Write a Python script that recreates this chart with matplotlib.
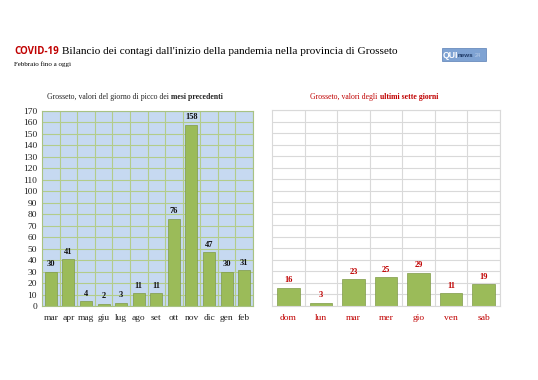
import matplotlib.pyplot as plt
import matplotlib.patches as mpatches
import numpy as np

mesi = ['mar', 'apr', 'mag', 'giu', 'lug', 'ago', 'set', 'ott', 'nov', 'dic', 'gen', 'feb']
picchi = [30, 41, 4, 2, 3, 11, 11, 76, 158, 47, 30, 31]
giorni = ['dom', 'lun', 'mar', 'mer', 'gio', 'ven', 'sab']
ultimi = [16, 3, 23, 25, 29, 11, 19]

W, H = 538, 380
SERIF = 'Liberation Serif'
RED = '#C00000'
BAR = '#9BBB59'
BAR_EDGE = '#7F9A48'


def px_axes(fig, x0, y0, x1, y1):
    # pixel box (top-left origin) -> figure fraction
    return fig.add_axes([x0 / W, 1 - y1 / H, (x1 - x0) / W, (y1 - y0) / H])


def style_axes(ax, n, bg, grid, spine):
    ax.set_facecolor(bg)
    ax.set_xlim(-0.5, n - 0.5)
    ax.set_ylim(0, 170)
    ax.set_yticks(np.arange(0, 171, 10))
    ax.set_xticks(np.arange(n) + 0.5, minor=True)
    ax.grid(True, axis='y', which='major', color=grid, lw=0.8)
    ax.grid(True, axis='x', which='minor', color=grid, lw=0.8)
    ax.set_axisbelow(True)
    for s in ax.spines.values():
        s.set_color(spine)
        s.set_linewidth(0.8)
    ax.tick_params(which='both', length=0)


def two_part(fig, cx, y, plain, bold, color, size):
    # plain + bold text, centred as a whole at pixel cx
    a = fig.text(0, 1 - y / H, plain, fontsize=size, fontfamily=SERIF, color=color, va='center')
    b = fig.text(0, 1 - y / H, bold, fontsize=size, fontfamily=SERIF, fontweight='bold',
                 color=color, va='center')
    fig.canvas.draw()
    wa = a.get_window_extent().width
    wb = b.get_window_extent().width
    x0 = cx - (wa + wb) / 2
    a.set_x(x0 / W)
    b.set_x((x0 + wa) / W)


fig = plt.figure(figsize=(W / 100, H / 100), dpi=100)

# left chart
ax1 = px_axes(fig, 42, 111, 253, 306)
style_axes(ax1, len(mesi), '#C6D9F1', '#B3CC8A', '#A8C283')
x = np.arange(len(mesi))
ax1.bar(x, picchi, width=0.68, color=BAR, edgecolor=BAR_EDGE, lw=0.5)
ax1.set_xticks(x)
ax1.set_xticklabels(mesi, fontfamily=SERIF, fontsize=6.8, color='#222222')
ax1.tick_params(axis='x', pad=6)
ax1.set_yticklabels([str(v) for v in range(0, 171, 10)], fontfamily=SERIF, fontsize=6.8, color='#222222')
for xi, v in zip(x, picchi):
    ax1.text(xi, v + 3, str(v), ha='center', va='bottom', fontsize=6,
             fontweight='bold', fontfamily=SERIF, color='#111111')

# right chart
ax2 = px_axes(fig, 272, 110, 500, 306)
style_axes(ax2, len(giorni), 'white', '#D9D9D9', '#D9D9D9')
x2 = np.arange(len(giorni))
ax2.bar(x2, ultimi, width=0.69, color=BAR, edgecolor=BAR_EDGE, lw=0.5)
ax2.set_xticks(x2)
ax2.set_xticklabels(giorni, fontfamily=SERIF, fontsize=6.8, color=RED)
ax2.tick_params(axis='x', pad=6)
ax2.set_yticklabels([])
for xi, v in zip(x2, ultimi):
    ax2.text(xi, v + 3, str(v), ha='center', va='bottom', fontsize=6,
             fontweight='bold', fontfamily=SERIF, color=RED)

# chart subtitles
two_part(fig, 135, 97, 'Grosseto, valori del giorno di picco dei ', 'mesi precedenti', '#222222', 5.6)
two_part(fig, 374, 97, 'Grosseto, valori degli ', 'ultimi sette giorni', RED, 5.6)

# main title: bold sans "COVID-19" then serif text
t1 = fig.text(14 / W, 1 - 54 / H, 'COVID-19', fontsize=7, fontweight='bold',
              fontfamily='Open Sans', color=RED, va='baseline')
fig.canvas.draw()
bb = t1.get_window_extent()
fig.text(bb.x1 / W + 3 / W, 1 - 54 / H,
         "Bilancio dei contagi dall'inizio della pandemia nella provincia di Grosseto",
         fontsize=8.1, fontfamily=SERIF, color='black', va='baseline')
fig.text(14 / W, 1 - 66 / H, 'Febbraio fino a oggi', fontsize=5, fontfamily=SERIF,
         color='black', va='baseline')

# logo box
logo = mpatches.Rectangle((442 / W, 1 - 61 / H), 44 / W, 13 / H,
                          transform=fig.transFigure,
                          facecolor='#7FA3D3', edgecolor='#5A7FB5', lw=0.5)
fig.patches.append(logo)
fig.text(443 / W, 1 - 55 / H, 'QUI', fontsize=6.3, fontweight='bold',
         fontfamily='Liberation Sans', color='white', va='center')
fig.text(457.5 / W, 1 - 55.5 / H, 'news', fontsize=4.5, fontweight='bold',
         fontfamily='Liberation Sans', color='#1F3A66', va='center')
fig.text(475 / W, 1 - 55.5 / H, '24', fontsize=4, fontfamily='Liberation Sans',
         color='#B8CCE8', va='center')

fig.savefig('out.png', dpi=100)
